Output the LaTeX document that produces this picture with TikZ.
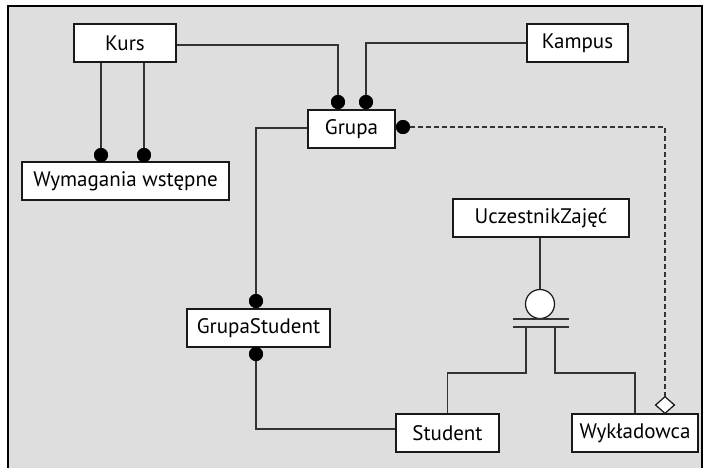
\documentclass[tikz,border=0pt]{standalone}
\usepackage{fontspec}
\setmainfont{PT Sans}
\usetikzlibrary{shapes.geometric}
\definecolor{bg}{HTML}{DEDEDE}
\definecolor{ln}{HTML}{333333}
\tikzset{
  ent/.style={draw=black!90, fill=white, line width=1.2pt, minimum height=38pt, inner sep=0pt, font=\fontsize{21pt}{25pt}\selectfont},
  conn/.style={draw=ln, line width=1.3pt},
  blob/.style={circle, fill=black, inner sep=0pt, minimum size=14pt},
  ring/.style={circle, draw=black!90, fill=white, line width=1.2pt, inner sep=0pt, minimum size=29pt},
  dia/.style={diamond, draw=black!90, fill=white, line width=1.1pt, inner sep=0pt, minimum width=19pt, minimum height=17pt},
}
\begin{document}
\begin{tikzpicture}[x=1pt,y=-1pt]
\useasboundingbox (0,0) rectangle (705,467);
\clip (0,0) rectangle (705,467);
\fill[white] (0,0) rectangle (705,467);
\draw[fill=bg, line width=1.5pt] (8,6) rectangle (702,490);
% entities
\node[ent, minimum width=102pt] (kurs) at (125,43) {Kurs};
\node[ent, minimum width=207pt] (wym) at (125.5,181) {Wymagania wstępne};
\node[ent, minimum width=87pt] (grupa) at (351.5,129) {Grupa};
\node[ent, minimum width=101pt] (kampus) at (577.5,43) {Kampus};
\node[ent, minimum width=176pt] (ucz) at (541,218) {UczestnikZajęć};
\node[ent, minimum width=143pt] (gs) at (258.5,328) {GrupaStudent};
\node[ent, minimum width=103pt] (student) at (447.5,433) {Student};
\node[ent, minimum width=126pt] (wyk) at (635,433) {Wykładowca};
% markers
\node[blob] (d1) at (101,155) {};
\node[blob] (d2) at (144,155) {};
\node[blob] (d3) at (338,102) {};
\node[blob] (d4) at (366,102) {};
\node[blob] (d5) at (403,127) {};
\node[blob] (d6) at (256,301) {};
\node[blob] (d7) at (256,354) {};
\node[dia] (dm) at (665,405) {};
\node[ring] (circ) at (540,304) {};
\coordinate (b1l) at (513,319);
\coordinate (b1r) at (569,319);
\coordinate (b2l) at (513,327);
\coordinate (b2r) at (569,327);
\coordinate (s1) at (526,327);
\coordinate (s2) at (555,327);
% connectors
\draw[conn] (kurs.south -| d1) -- (d1);
\draw[conn] (kurs.south -| d2) -- (d2);
\draw[conn] ([yshift=-2pt]kurs.east) -| (d3);
\draw[conn] (kampus.west) -| (d4);
\draw[conn, dashed, dash pattern=on 5pt off 3pt, line width=1.1pt] (d5) -| (dm.north);
\draw[conn] ([yshift=1pt]grupa.west) -| (d6);
\draw[conn] (d7) |- ([yshift=4pt]student.west);
\draw[conn] (ucz.south -| circ) -- (circ.north);
\draw[conn] (b1l) -- (b1r);
\draw[conn] (b2l) -- (b2r);
\draw[conn] (s1) -- (526,373) -| (student.north);
\draw[conn] (s2) -- (555,373) -| (wyk.north);
% redraw markers on top
\node[blob] at (d1) {};
\node[blob] at (d2) {};
\node[blob] at (d3) {};
\node[blob] at (d4) {};
\node[blob] at (d5) {};
\node[blob] at (d6) {};
\node[blob] at (d7) {};
\node[dia] at (dm) {};
\end{tikzpicture}
\end{document}
